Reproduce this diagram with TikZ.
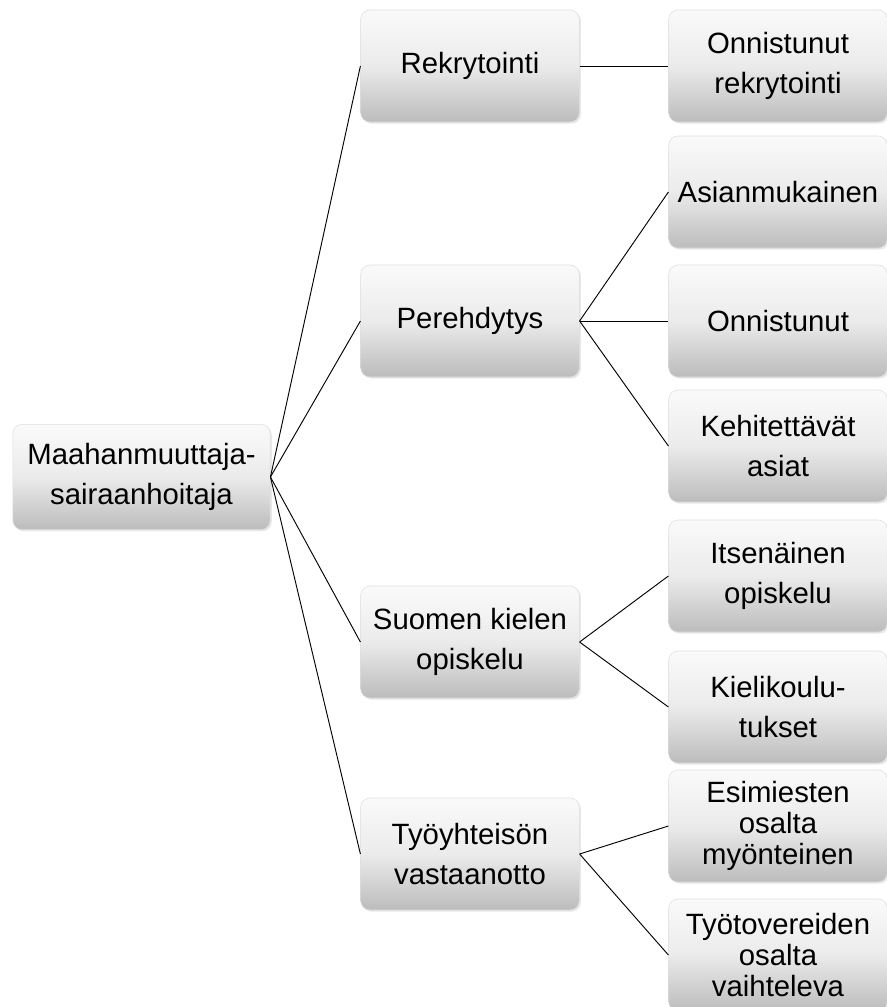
\documentclass[tikz,border=0pt]{standalone}
\usepackage{fontspec}
\setmainfont{Liberation Sans}
\usetikzlibrary{shadows}
\definecolor{boxtop}{HTML}{FAFAFA}
\definecolor{boxbot}{HTML}{BCBCBC}
\definecolor{boxedge}{HTML}{DEDEDE}

\begin{document}
\begin{tikzpicture}[x=0.75pt,y=-0.75pt,
  card/.style={rounded corners=7pt, draw=boxedge, line width=0.4pt,
    top color=boxtop, bottom color=boxbot, middle color=white!70!boxbot,
    drop shadow={opacity=0.18, shadow xshift=1.2pt, shadow yshift=-1.2pt},
    align=center, inner sep=2pt, font=\fontsize{22}{30}\selectfont},
  lvl/.style={card, minimum width=164pt, minimum height=84pt},
  wide/.style={},
  tight/.style={font=\fontsize{22}{23.5}\selectfont},
  link/.style={line width=0.7pt, black}]
  \useasboundingbox (0,0) rectangle (887,1007);
  % root
  \node[card, minimum width=193pt, minimum height=79pt] (root) at (141.5,477) {Maahanmuuttaja-\\sairaanhoitaja};
  % first level
  \foreach \name/\y/\txt in {rek/66/Rekrytointi, pere/321/Perehdytys,
      suo/642/{Suomen kielen\\opiskelu}, tyo/854/{Työyhteisön\\vastaanotto}} {
    \node[lvl] (\name) at (470,\y) {\txt};
  }
  % second level
  \foreach \name/\y/\sty/\txt in {onr/66/wide/{Onnistunut\\rekrytointi},
      asi/192/wide/Asianmukainen, onn/321/wide/Onnistunut,
      keh/446/wide/{Kehitettävät\\asiat}, its/576/wide/{Itsenäinen\\opiskelu},
      kie/707/wide/{Kielikoulu-\\tukset},
      esi/826/tight/{Esimiesten\\osalta\\myönteinen},
      tyt/955/tight/{Työtovereiden\\osalta\\vaihteleva}} {
    \node[lvl, \sty] (\name) at (778,\y) {\txt};
  }
  % connectors
  \foreach \a/\b in {root/rek, root/pere, root/suo, root/tyo, rek/onr,
      pere/asi, pere/onn, pere/keh, suo/its, suo/kie, tyo/esi, tyo/tyt}
    \draw[link] (\a.east) -- (\b.west);
\end{tikzpicture}
\end{document}
